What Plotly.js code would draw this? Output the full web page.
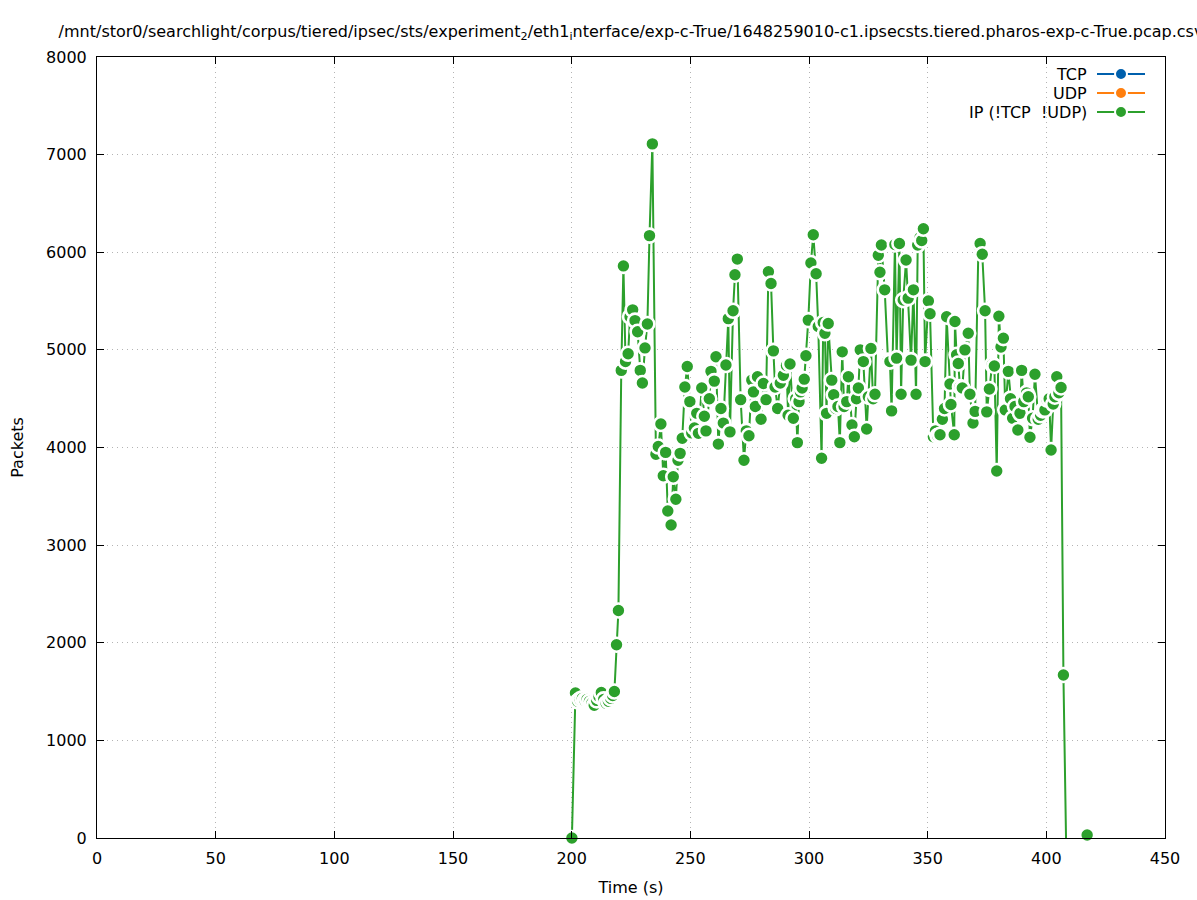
<!DOCTYPE html>
<html><head><meta charset="utf-8">
<script src="https://cdn.plot.ly/plotly-3.0.1.min.js"></script>
<style>body{margin:0;background:#fff}</style>
</head><body><div id="chart" style="width:1197px;height:900px"></div>
<script>
const chartTitle = "/mnt/stor0/searchlight/corpus/tiered/ipsec/sts/experiment<sub>2</sub>/eth1<sub>i</sub>nterface/exp-c-True/1648259010-c1.ipsecsts.tiered.pharos-exp-c-True.pcap.csv";
const seriesNames = ["TCP", "UDP", "IP (!TCP\u00a0 !UDP)"];
const seriesColors = ["#0060ad", "#ff7f0e", "#2ca02c"];
const xTitle = "Time (s)";
const yTitle = "Packets";
const xTicks = [0, 50, 100, 150, 200, 250, 300, 350, 400, 450];
const yTicks = [0, 1000, 2000, 3000, 4000, 5000, 6000, 7000, 8000];

const tcpTime = [];
const tcpPackets = [];
const udpTime = [];
const udpPackets = [];

const ipTime = [
  200.1, 201.6, 202.5, 203.5, 204.5, 205.5, 206.5, 207.5, 208.5, 209.5, 210.5, 211.5, 212.5, 213.5, 214.5, 215.5, 216.5, 217.3, 218.0, 218.9, 219.7,
  220.9, 221.8, 222.7, 223.8, 224.6, 225.7, 226.7, 227.8, 228.9, 229.8, 230.9, 231.9, 232.8, 234.0,
  235.5, 236.5, 237.6, 238.6, 239.6, 240.5, 241.9, 242.8, 243.9, 244.8, 245.7, 246.6, 247.7, 248.7, 249.8,
  250.6, 251.7, 252.7, 253.4, 254.8, 255.9, 256.6, 258.0, 258.7, 260.1, 260.8, 261.8, 262.9, 263.9, 265.0, 266.0, 266.7, 268.0, 268.8, 269.8,
  271.2, 272.6, 273.6, 274.7, 275.9, 276.6, 277.4, 278.3, 279.8, 280.8, 281.9, 282.9, 284.0, 285.0, 285.7, 286.8, 287.9, 289.2, 290.5, 291.2,
  292.0, 293.4, 294.4, 295.1, 295.8, 296.4, 297.1, 298.0, 298.7, 299.7, 300.8, 301.8, 303.0, 303.9, 305.3, 306.0, 306.7, 307.4, 308.1, 309.6,
  310.4, 311.3, 312.2, 313.0, 314.0, 314.8, 315.9, 316.6, 318.1, 319.1, 320.0, 320.8, 321.6, 322.9, 324.3, 325.0, 326.1, 327.0, 327.8, 329.2,
  329.9, 330.5, 331.9, 333.3, 334.1, 334.8, 336.2, 336.9, 338.1, 338.8, 339.7, 340.9, 341.8, 343.0, 344.0, 345.1, 345.8, 346.8, 347.5, 348.2,
  348.9, 350.3, 351.0, 352.4, 353.3, 354.2, 355.2, 356.2, 357.1, 358.0, 359.4, 359.8, 361.2, 361.5, 362.2, 362.9, 363.6, 364.6, 365.7, 367.1,
  367.8, 369.1, 370.0, 371.4, 372.1, 373.0, 374.2, 374.9, 376.0, 377.2, 378.1, 379.1, 380.0, 380.9, 381.9, 382.7, 384.0, 384.9, 385.8, 386.8,
  388.0, 388.9, 389.6, 390.5, 391.7, 392.4, 393.1, 394.2, 395.2, 396.6, 397.6, 398.5, 399.4, 400.3, 401.2, 402.0, 402.9, 403.6, 404.4, 405.3,
  406.2, 407.2
];
const ipPackets = [
  0, 1485, 1400, 1420, 1430, 1410, 1420, 1400, 1380, 1360, 1410, 1450, 1490, 1420, 1380, 1400, 1430, 1460, 1500, 1980, 2330,
  4790, 5860, 4880, 4960, 5340, 5410, 5300, 5185, 4790, 4660, 5020, 5265, 6170, 7110,
  3930, 4010, 4240, 3710, 3950, 3350, 3206, 3700, 3470, 3870, 3940, 4095, 4620, 4830, 4470,
  4150, 4200, 4350, 4145, 4610, 4320, 4170, 4500, 4780, 4680, 4930, 4035, 4400, 4250, 4845, 5320, 4160, 5400, 5770, 5930,
  4490, 3870, 4170, 4120, 4690, 4570, 4420, 4725, 4290, 4655, 4490, 5800, 5680, 4990, 4620, 4400, 4660, 4740, 4840, 4330,
  4855, 4300, 4500, 4050, 4470, 4570, 4610, 4700, 4940, 5305, 5890, 6180, 5780, 5240, 3890, 5280, 5170, 4350, 5270, 4690,
  4540, 4400, 4420, 4050, 4980, 4420, 4470, 4725, 4230, 4110, 4500, 4610, 5000, 4880, 4190, 4520, 5015, 4500, 4545, 5970,
  5795, 6075, 5615, 4890, 4880, 4375, 6080, 4915, 6090, 4545, 5510, 5920, 5530, 4895, 5615, 4545, 6075, 6150, 6120, 6240,
  4880, 5500, 5370, 4110, 4170, 4120, 4130, 4290, 4400, 5340, 4650, 4440, 4130, 5290, 4950, 4860, 4620, 4610, 5000, 5170,
  4545, 4250, 4370, 6075, 6090, 5980, 5400, 4365, 4600, 4850, 4835, 3760, 5345, 5030, 5120, 4385, 4780, 4500, 4300, 4420,
  4180, 4350, 4790, 4470, 4560, 4520, 4105, 4300, 4750, 4290, 4330, 4380, 4385, 4490, 4500, 3975, 4445, 4520, 4725, 4560,
  4615, 1670
];
// line drops to zero after the last marked sample
const ipTailTime = [408.3];
const ipTailPackets = [0];
// isolated final sample
const ipLateTime = [417.2];
const ipLatePackets = [30];

const markerStyle = (c) => ({color: c, size: 14, line: {color: "#ffffff", width: 2.6}});

const traces = [
  {x: tcpTime, y: tcpPackets, type: "scatter", mode: "lines+markers", name: seriesNames[0],
   line: {color: seriesColors[0], width: 2}, marker: markerStyle(seriesColors[0]), showlegend: false},
  {x: udpTime, y: udpPackets, type: "scatter", mode: "lines+markers", name: seriesNames[1],
   line: {color: seriesColors[1], width: 2}, marker: markerStyle(seriesColors[1]), showlegend: false},
  {x: ipTime.concat(ipTailTime), y: ipPackets.concat(ipTailPackets), type: "scatter", mode: "lines",
   name: seriesNames[2], line: {color: seriesColors[2], width: 2}, showlegend: false, hoverinfo: "skip"},
  {x: ipTime.concat(ipLateTime), y: ipPackets.concat(ipLatePackets), type: "scatter", mode: "markers",
   name: seriesNames[2], marker: markerStyle(seriesColors[2]), showlegend: false, cliponaxis: false}
];

// legend drawn gnuplot-style (text left of sample)
const L = 97, R = 1165, T = 57, B = 838;
const px = (p) => (p - L) / (R - L);
const py = (p) => (B - p) / (B - T);
const legendRows = [74, 93, 112];
const shapes = [];
const annotations = [];
seriesNames.forEach((n, i) => {
  const yy = py(legendRows[i]);
  annotations.push({xref: "paper", yref: "paper", x: px(1089), y: yy, xanchor: "right", yanchor: "middle",
    text: n, showarrow: false, font: {family: "DejaVu Sans", size: 16, color: "#000"}});
  shapes.push({type: "line", xref: "paper", yref: "paper", x0: px(1097), x1: px(1145), y0: yy, y1: yy,
    line: {color: seriesColors[i], width: 2}});
  shapes.push({type: "circle", xref: "paper", yref: "paper", x0: px(1115), x1: px(1127),
    y0: py(legendRows[i] + 6), y1: py(legendRows[i] - 6), fillcolor: seriesColors[i],
    line: {color: "#ffffff", width: 2}});
});

const axisCommon = {
  showline: true, linecolor: "#000", linewidth: 1, mirror: "allticks",
  ticks: "inside", ticklen: 7, tickcolor: "#000", tickwidth: 1,
  showgrid: true, gridcolor: "#b4b4b4", griddash: "1px,4px", gridwidth: 1,
  zeroline: false, tickfont: {family: "DejaVu Sans", size: 16, color: "#000"},
  ticklabelstandoff: 6
};

const layout = {
  width: 1197, height: 900,
  margin: {l: L, r: 1197 - R, t: T, b: 900 - B},
  paper_bgcolor: "#fff", plot_bgcolor: "#fff",
  title: {text: chartTitle, x: 0.5, xref: "paper", xanchor: "center", y: 1 - 31 / 900, yref: "container", yanchor: "middle",
    font: {family: "DejaVu Sans", size: 16, color: "#000"}},
  xaxis: Object.assign({}, axisCommon, {range: [0, 450], tickvals: xTicks, ticktext: xTicks.map(String),
    title: {text: xTitle, standoff: 14, font: {family: "DejaVu Sans", size: 16, color: "#000"}}}),
  yaxis: Object.assign({}, axisCommon, {range: [0, 8000], tickvals: yTicks, ticktext: yTicks.map(String),
    title: {text: yTitle, standoff: 18, font: {family: "DejaVu Sans", size: 16, color: "#000"}}}),
  showlegend: false,
  shapes: shapes,
  annotations: annotations
};

Plotly.newPlot("chart", traces, layout, {displayModeBar: false, staticPlot: true});
</script>
</body></html>
